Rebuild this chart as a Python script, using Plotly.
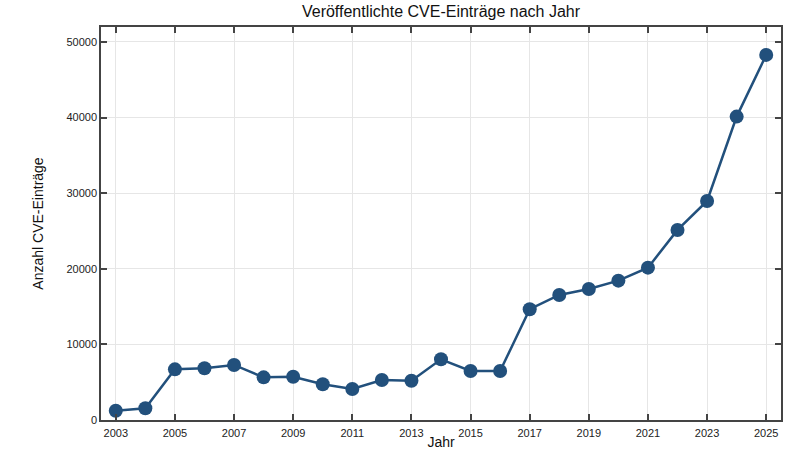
import plotly.graph_objects as go

years = list(range(2003, 2026))
cve_counts = [1230, 1550, 6700, 6840, 7280, 5640, 5730, 4720, 4100, 5290, 5200, 8030,
              6480, 6480, 14650, 16540, 17330, 18430, 20150, 25140, 28970, 40130, 48290]
x_ticks = list(range(2003, 2026, 2))
y_ticks = [0, 10000, 20000, 30000, 40000, 50000]

color = "#22507c"
axis_color = "#444444"

fig = go.Figure()
fig.add_trace(go.Scatter(
    x=years, y=cve_counts, mode="lines+markers",
    line=dict(color=color, width=2.5),
    marker=dict(color=color, size=14),
    showlegend=False,
))

fig.update_layout(
    width=800, height=450,
    margin=dict(l=101, r=19, t=27, b=30),
    paper_bgcolor="white", plot_bgcolor="white",
    font=dict(family="Liberation Sans, Arial, sans-serif", color="#222222"),
    title=dict(text="Veröffentlichte CVE-Einträge nach Jahr", x=0.5, xref="paper",
               y=0.975, yanchor="middle", font=dict(size=16, color="#111111")),
)
fig.update_xaxes(
    range=[2002.5, 2025.5], tickvals=x_ticks, ticktext=[str(v) for v in x_ticks],
    ticks="inside", ticklen=6, tickwidth=1.5, tickcolor=axis_color,
    showline=True, linecolor=axis_color, linewidth=1.5, mirror="ticks",
    showgrid=True, gridcolor="#e6e6e6", gridwidth=1,
    tickfont=dict(size=11, color="#222222"), ticklabelstandoff=2,
    title=dict(text="Jahr", standoff=0, font=dict(size=14, color="#111111")),
    zeroline=False, automargin=False,
)
fig.update_yaxes(
    range=[0, 51980], tickvals=y_ticks, ticktext=[str(v) for v in y_ticks],
    ticks="inside", ticklen=6, tickwidth=1.5, tickcolor=axis_color,
    showline=True, linecolor=axis_color, linewidth=1.5, mirror="ticks",
    showgrid=True, gridcolor="#e6e6e6", gridwidth=1,
    tickfont=dict(size=11, color="#222222"),
    title=dict(text="Anzahl CVE-Einträge", standoff=20, font=dict(size=14, color="#111111")),
    zeroline=False, automargin=False,
)

fig.write_html("out.html")
